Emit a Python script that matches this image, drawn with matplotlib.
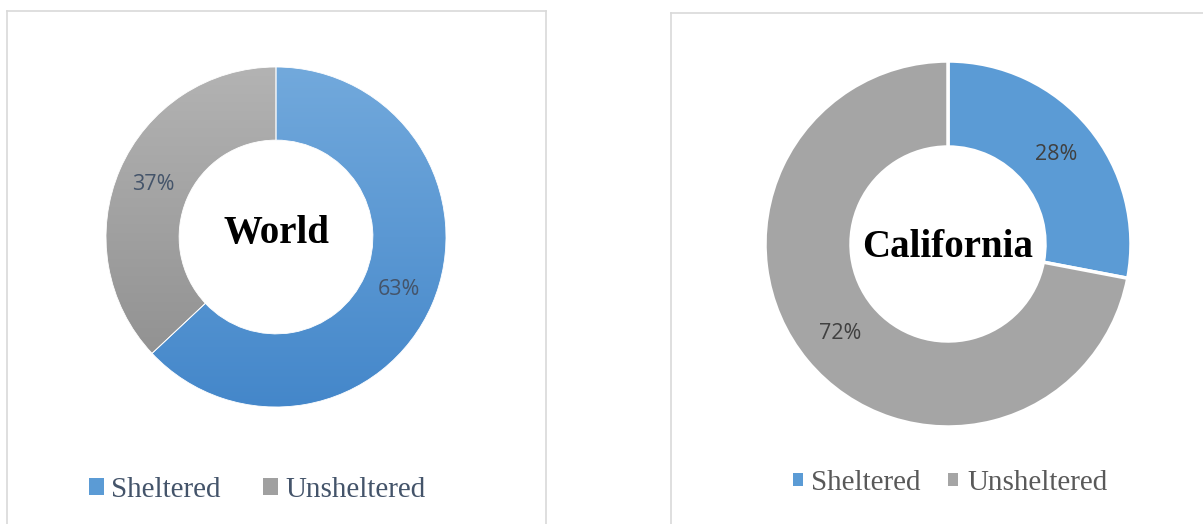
import numpy as np
import matplotlib
matplotlib.use('Agg')
import matplotlib.pyplot as plt
from matplotlib.colors import LinearSegmentedColormap
from matplotlib.patches import Patch
from matplotlib.lines import Line2D

# data
categories = ['Sheltered', 'Unsheltered']
world_values = [63, 37]
california_values = [28, 72]

W, H = 1203, 524
fig = plt.figure(figsize=(W/100, H/100), dpi=100)

def px_axes(cx, cy, r):
    # axes square centred at pixel (cx, cy) measured from top-left
    return fig.add_axes([(cx - r)/W, (H - cy - r)/H, 2*r/W, 2*r/H])

# ---- left panel: World (gradient fills) ----
ax1 = px_axes(276, 237, 170)
inner1 = 0.57
wedges, texts, autotexts = ax1.pie(world_values, startangle=90, counterclock=False,
                                   radius=1, autopct='%d%%', pctdistance=(1+inner1)/2,
                                   wedgeprops=dict(width=1-inner1, edgecolor='white', linewidth=0.6),
                                   colors=['#5b9bd5', '#a5a5a5'])
grads = [('#4487ca', '#72a9dc'), ('#8c8c8c', '#b3b3b3')]
g = np.linspace(0, 1, 256).reshape(-1, 1)
for w, (c0, c1) in zip(wedges, grads):
    cm = LinearSegmentedColormap.from_list('g', [c0, c1])
    im = ax1.imshow(g, extent=[-1, 1, -1, 1], origin='lower', cmap=cm,
                    aspect='auto', zorder=0.5, interpolation='bilinear')
    im.set_clip_path(w)
    w.set_facecolor('none')
for t in autotexts:
    t.set_fontsize(15.5)
    t.set_color('#44546a')
    t.set_family('Open Sans')
ax1.text(0, 0.02, 'World', ha='center', va='center', fontsize=28,
         fontweight='bold', family='Liberation Serif', color='black')
ax1.set_xlim(-1, 1)
ax1.set_ylim(-1, 1)
ax1.set_aspect('auto')
ax1.axis('off')

h1 = [Patch(facecolor='#5b9bd5', edgecolor='none'),
      Patch(facecolor='#a0a0a0', edgecolor='none')]
fig.legend(h1, categories, loc='center', bbox_to_anchor=(257/W, 1 - 490/H),
           ncol=2, frameon=False, handlelength=0.52, handleheight=0.52,
           handletextpad=0.25, columnspacing=1.45,
           prop={'family': 'Liberation Serif', 'size': 21}, labelcolor='#44546a')

# ---- right panel: California ----
ax2 = px_axes(948, 244, 183)
inner2 = 0.53
wedges2, texts2, autotexts2 = ax2.pie(california_values, startangle=90, counterclock=False,
                                      radius=1, autopct='%d%%', pctdistance=(1+inner2)/2,
                                      wedgeprops=dict(width=1-inner2, edgecolor='white', linewidth=2.5),
                                      colors=['#5b9bd5', '#a5a5a5'])
for t in autotexts2:
    t.set_fontsize(15.5)
    t.set_color('#404040')
    t.set_family('Open Sans')
ax2.text(0, -0.02, 'California', ha='center', va='center', fontsize=28,
         fontweight='bold', family='Liberation Serif', color='black')
ax2.set_xlim(-1, 1)
ax2.set_ylim(-1, 1)
ax2.axis('off')

h2 = [Patch(facecolor='#5b9bd5', edgecolor='none'),
      Patch(facecolor='#a5a5a5', edgecolor='none')]
fig.legend(h2, categories, loc='center', bbox_to_anchor=(950/W, 1 - 483/H),
           ncol=2, frameon=False, handlelength=0.34, handleheight=0.34,
           handletextpad=0.3, columnspacing=0.95,
           prop={'family': 'Liberation Serif', 'size': 21}, labelcolor='#595959')

# panel borders
bc = '#d9d9d9'
def fline(x0, y0, x1, y1):
    fig.add_artist(Line2D([x0/W, x1/W], [1 - y0/H, 1 - y1/H], color=bc, lw=1.2,
                          transform=fig.transFigure))
fline(7, 11, 546, 11)
fline(7, 11, 7, 524)
fline(546, 11, 546, 524)
fline(671, 13, 1203, 13)
fline(671, 13, 671, 524)

fig.savefig('out.png', dpi=100)
